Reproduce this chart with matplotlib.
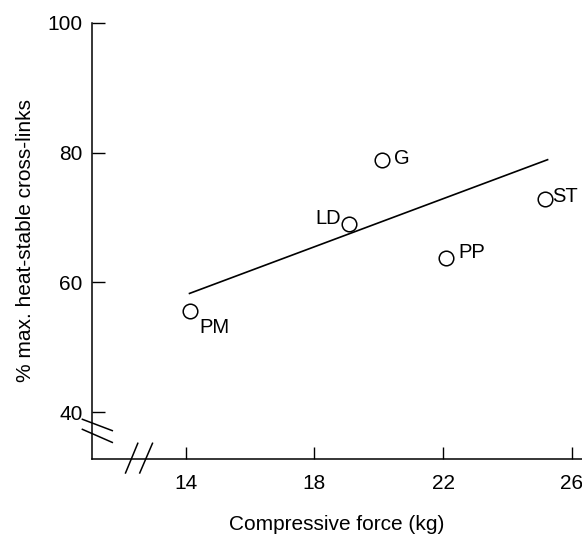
"""
Heat-stable cross-links vs compressive force, scatter with fitted line
"""
import matplotlib
matplotlib.use('Agg')
import matplotlib.pyplot as plt
from matplotlib.lines import Line2D

# data
labels = ['PM', 'LD', 'G', 'PP', 'ST']
force = [14.12, 19.08, 20.1, 22.1, 25.18]
crosslinks = [55.6, 69.0, 78.8, 63.7, 72.8]
fit_x = [14.12, 25.25]
fit_y = [58.3, 78.9]
x_ticks = [14, 18, 22, 26]
y_ticks = [40, 60, 80, 100]

# label offsets in points, and alignment
offsets = {'PM': (7, -12, 'left'), 'LD': (-6, 4, 'right'), 'G': (9, 1.5, 'left'),
           'PP': (9, 4, 'left'), 'ST': (5, 2, 'left')}

plt.rcParams['font.family'] = ['Liberation Sans', 'DejaVu Sans']
FS = 15

fig = plt.figure(figsize=(5.82, 5.38), dpi=100, facecolor='white')
ax = fig.add_axes([91.7 / 582, 79 / 538, 490.3 / 582, 436.3 / 538])

ax.plot(fit_x, fit_y, color='black', linewidth=1.2)
ax.plot(force, crosslinks, linestyle='none', marker='o', markersize=10.5,
        markerfacecolor='white', markeredgecolor='black', markeredgewidth=1.1)

for name, x, y in zip(labels, force, crosslinks):
    dx, dy, ha = offsets[name]
    ax.annotate(name, (x, y), xytext=(dx, dy), textcoords='offset points',
                ha=ha, va='center', fontsize=14.5)

ax.set_xlim(11.08, 26.32)
ax.set_ylim(32.8, 100)
ax.set_xticks(x_ticks)
ax.set_yticks(y_ticks)
ax.tick_params(direction='in', length=9, width=1, labelsize=FS)
ax.tick_params(axis='y', pad=6.5)
ax.tick_params(axis='x', pad=11)

for side in ['top', 'right']:
    ax.spines[side].set_visible(False)
for side in ['left', 'bottom']:
    ax.spines[side].set_linewidth(1.1)

ax.set_xlabel('Compressive force (kg)', fontsize=FS, labelpad=16)
ax.set_ylabel('% max. heat-stable cross-links', fontsize=FS, labelpad=9)

# axis break marks (axes fraction)
breaks = [
    ([-0.019, 0.042], [0.091, 0.065]),
    ([-0.019, 0.042], [0.068, 0.038]),
    ([0.069, 0.094], [-0.032, 0.036]),
    ([0.098, 0.124], [-0.032, 0.036]),
]
for bx, by in breaks:
    ax.add_line(Line2D(bx, by, transform=ax.transAxes, color='black',
                       linewidth=1.1, clip_on=False))

fig.savefig('out.png', dpi=100)
